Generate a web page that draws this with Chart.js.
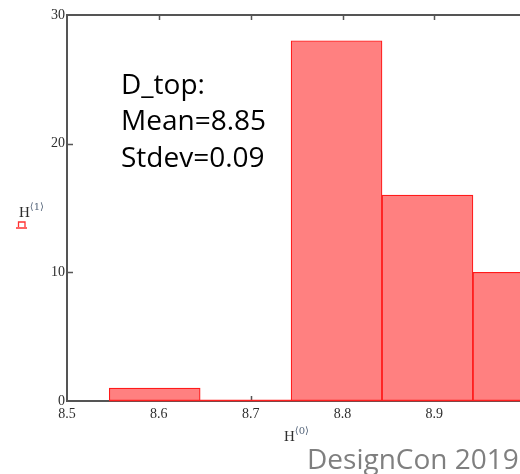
<!DOCTYPE html>
<html>
<head>
<meta charset="utf-8">
<script src="https://cdn.jsdelivr.net/npm/chart.js@4/dist/chart.umd.min.js"></script>
<style>
  html, body { margin: 0; padding: 0; background: #ffffff; overflow: hidden; }
  #wrap { width: 520px; height: 474px; position: relative; overflow: hidden; }
  canvas { display: block; }
</style>
</head>
<body>
<div id="wrap"><canvas id="hist" width="560" height="474"></canvas></div>
<script>
// Histogram of D_top: bin edges and counts
const binEdges = [8.546, 8.645, 8.744, 8.843, 8.942, 9.041];
const binCounts = [1, 0, 28, 16, 10];
const xTickValues = [8.5, 8.6, 8.7, 8.8, 8.9];
const yTickValues = [0, 10, 20, 30];
const statsLines = ['D_top:', 'Mean=8.85', 'Stdev=0.09'];
const footerText = 'DesignCon 2019';

const binCenters = binCounts.map((c, i) => (binEdges[i] + binEdges[i + 1]) / 2);
const points = binCounts.map((c, i) => ({ x: binCenters[i], y: c }));

const AXIS_COLOR = '#555555';
const LABEL_COLOR = '#2e2e2e';

const frame = {
  id: 'frame',
  beforeDatasetsDraw(chart) {
    const { ctx, chartArea: a, scales: { x, y } } = chart;
    ctx.save();
    ctx.strokeStyle = AXIS_COLOR;
    ctx.lineWidth = 1.5;
    // inward tick marks on left, top and bottom
    ctx.beginPath();
    yTickValues.slice(1, -1).forEach(v => {
      const py = Math.round(y.getPixelForValue(v)) + 0.5;
      ctx.moveTo(a.left, py); ctx.lineTo(a.left + 6, py);
    });
    xTickValues.slice(1).forEach(v => {
      const px = Math.round(x.getPixelForValue(v)) + 0.5;
      ctx.moveTo(px, a.top); ctx.lineTo(px, a.top + 5);
      ctx.moveTo(px, a.bottom); ctx.lineTo(px, a.bottom - 5);
    });
    ctx.stroke();
    // top frame line
    ctx.lineWidth = 2;
    ctx.beginPath();
    ctx.moveTo(a.left - 1, a.top);
    ctx.lineTo(a.right, a.top);
    ctx.stroke();
    ctx.restore();
  },
  afterDatasetsDraw(chart) {
    const { ctx, scales: { x, y } } = chart;
    ctx.save();
    // red base line under the bins
    ctx.strokeStyle = '#ff2020';
    ctx.lineWidth = 1.5;
    ctx.beginPath();
    const y0 = y.getPixelForValue(0) - 0.5;
    ctx.moveTo(x.getPixelForValue(binEdges[0]), y0);
    ctx.lineTo(x.getPixelForValue(binEdges[binEdges.length - 1]), y0);
    ctx.stroke();
    ctx.restore();
  },
  afterDraw(chart) {
    const { ctx } = chart;
    ctx.save();
    // stats text
    ctx.fillStyle = '#000000';
    ctx.font = "28px 'Open Sans'";
    ctx.textBaseline = 'alphabetic';
    ctx.textAlign = 'left';
    [94, 130, 167].forEach((by, i) => ctx.fillText(statsLines[i], 121, by));

    // footer
    ctx.fillStyle = '#7f7f7f';
    ctx.font = "28px 'Open Sans'";
    ctx.fillText(footerText, 307, 469);

    // axis names H<1> and H<0>
    const axisName = (sx, sy, idx) => {
      ctx.fillStyle = LABEL_COLOR;
      ctx.font = "15px 'Liberation Serif'";
      ctx.fillText('H', sx, sy);
      const w = ctx.measureText('H').width;
      ctx.fillStyle = '#55657a';
      ctx.font = "10px 'DejaVu Serif'";
      ctx.fillText('\u27E8' + idx + '\u27E9', sx + w, sy - 7);
    };
    axisName(19, 217, 1);
    axisName(284, 441, 0);

    // red placeholder under H<1>
    ctx.strokeStyle = '#ff3030';
    ctx.lineWidth = 1.3;
    ctx.beginPath();
    ctx.moveTo(18.5, 227); ctx.lineTo(18.5, 222); ctx.lineTo(25, 222); ctx.lineTo(25, 227);
    ctx.moveTo(16, 228); ctx.lineTo(27, 228);
    ctx.stroke();
    ctx.restore();
  }
};

new Chart(document.getElementById('hist'), {
  type: 'bar',
  data: {
    datasets: [{
      data: points,
      backgroundColor: '#ff8080',
      borderColor: '#ff1a1a',
      borderWidth: 1.2,
      borderSkipped: false,
      barPercentage: 1,
      categoryPercentage: 1,
      grouped: false
    }]
  },
  options: {
    responsive: false,
    maintainAspectRatio: false,
    animation: false,
    devicePixelRatio: 1,
    layout: { padding: { top: 15, right: 0, left: 0, bottom: 0 } },
    plugins: { legend: { display: false }, tooltip: { enabled: false } },
    scales: {
      x: {
        type: 'linear',
        min: 8.5,
        max: 9.0368,
        offset: false,
        afterBuildTicks: axis => { axis.ticks = xTickValues.map(v => ({ value: v })); },
        afterFit: axis => { axis.height = 73; },
        grid: { display: false, drawTicks: false },
        border: { display: true, color: AXIS_COLOR, width: 2 },
        ticks: {
          maxRotation: 0,
          autoSkip: false,
          padding: 5,
          color: LABEL_COLOR,
          font: { family: 'Liberation Serif', size: 14 },
          callback: v => v.toFixed(1)
        }
      },
      y: {
        min: 0,
        max: 30,
        afterBuildTicks: axis => { axis.ticks = yTickValues.map(v => ({ value: v })); },
        afterFit: axis => { axis.width = 67; },
        grid: { display: false, drawTicks: false },
        border: { display: true, color: AXIS_COLOR, width: 2 },
        ticks: {
          padding: 2,
          color: LABEL_COLOR,
          font: { family: 'Liberation Serif', size: 14 }
        }
      }
    }
  },
  plugins: [frame]
});
</script>
</body>
</html>
